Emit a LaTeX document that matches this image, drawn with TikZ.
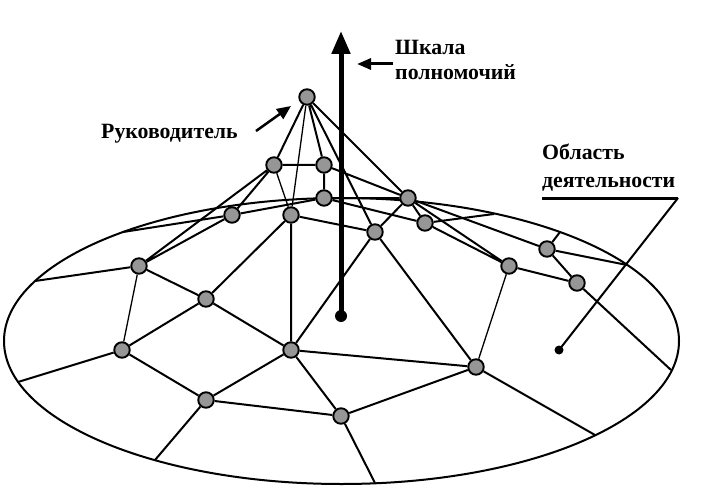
\documentclass[tikz,border=0pt]{standalone}
\usepackage{fontspec}
\setmainfont{Liberation Serif}
\usetikzlibrary{arrows.meta}
\definecolor{nodegray}{RGB}{150,150,150}
\begin{document}
\begin{tikzpicture}[x=1pt,y=-1pt,
  vtx/.style={circle,draw=black,line width=1.9pt,fill=nodegray,minimum size=15.5pt,inner sep=0pt},
  edge/.style={line width=2pt},
  thinedge/.style={line width=1.3pt},
  rim/.style={line width=2pt},
  lbl/.style={anchor=base west,font=\fontsize{21.8}{26}\selectfont\bfseries,inner sep=0pt},
]
\useasboundingbox (0,0) rectangle (714,489);
% area ellipse
\draw[rim] (341.5,341) ellipse [x radius=337.5, y radius=143];
% nodes
\node[vtx] (T) at (307,97) {};
\node[vtx] (A) at (274,165) {};
\node[vtx] (B) at (324,165) {};
\node[vtx] (C) at (324,198) {};
\node[vtx] (D) at (408,198) {};
\node[vtx] (E) at (232,215) {};
\node[vtx] (F) at (291,215) {};
\node[vtx] (G) at (375,232) {};
\node[vtx] (H) at (425,223) {};
\node[vtx] (I) at (139,266) {};
\node[vtx] (J) at (509,266) {};
\node[vtx] (K) at (547,249) {};
\node[vtx] (L) at (577,283) {};
\node[vtx] (M) at (206,299) {};
\node[vtx] (N) at (122,350) {};
\node[vtx] (O) at (291,350) {};
\node[vtx] (P) at (476,367) {};
\node[vtx] (Q) at (206,400) {};
\node[vtx] (R) at (341,416) {};
% rim points
\coordinate (sI) at (35,281);
\coordinate (sN) at (18,382);
\coordinate (sQ) at (155,460);
\coordinate (sR) at (375,483);
\coordinate (sP) at (595,435);
\coordinate (sL) at (671,370);
\coordinate (sK1) at (560,232);
\coordinate (sK2) at (627,265);
\coordinate (sH) at (494,214);
\coordinate (sE) at (123,232);
% edges
\draw[edge] (T)--(A) (T)--(B) (T)--(G) (T)--(D)
  (A)--(B) (A)--(I) (A)--(E)
  (B)--(C) (B)--(D)
  (C)--(E) (C)--(D) (C)--(H)
  (D)--(G) (D)--(H) (D)--(J) (D)--(K)
  (H)--(J) (E)--(I)
  (F)--(G) (F)--(M) (F)--(O)
  (G)--(O) (G)--(P)
  (I)--(M) (M)--(N) (M)--(O) (N)--(Q) (Q)--(O) (Q)--(R) (O)--(R) (O)--(P) (R)--(P)
  (J)--(L) (K)--(L);
\draw[thinedge] (T)--(F) (A)--(F) (N)--(I) (P)--(J);
% spokes to the rim
\draw[edge] (I)--(sI) (N)--(sN) (Q)--(sQ) (R)--(sR) (P)--(sP) (L)--(sL)
  (K)--(sK1) (K)--(sK2) (H)--(sH) (E)--(sE);
% scale of authority
\coordinate (axb) at (341,316);
\coordinate (axt) at (341,31);
\draw[line width=5pt,-{Triangle[length=23pt,width=18pt]}] (axb)--(axt);
\fill (axb) circle (6);
% labels
\node[lbl] (sk1) at (395,55) {Шкала};
\node[lbl] (sk2) at (395,80) {полномочий};
\coordinate (skt) at (393,64);
\coordinate (skh) at (357,64);
\draw[line width=3pt,-{Triangle[length=14pt,width=11pt]}] (skt)--(skh);
\node[lbl] (ruk) at (101,139) {Руководитель};
\coordinate (rt) at (256,131);
\coordinate (rh) at (291,106);
\draw[line width=2.5pt,-{Triangle[length=14pt,width=12pt]}] (rt)--(rh);
\node[lbl] (ob1) at (542,160) {Область};
\node[lbl] (ob2) at (542,187) {деятельности};
\coordinate (oa1) at (542,198);
\coordinate (oa2) at (678,198);
\coordinate (odot) at (559,350);
\draw[line width=3pt] (oa1)--(oa2);
\draw[line width=2pt] (oa2)--(odot);
\fill (odot) circle (4.5);
\end{tikzpicture}
\end{document}
